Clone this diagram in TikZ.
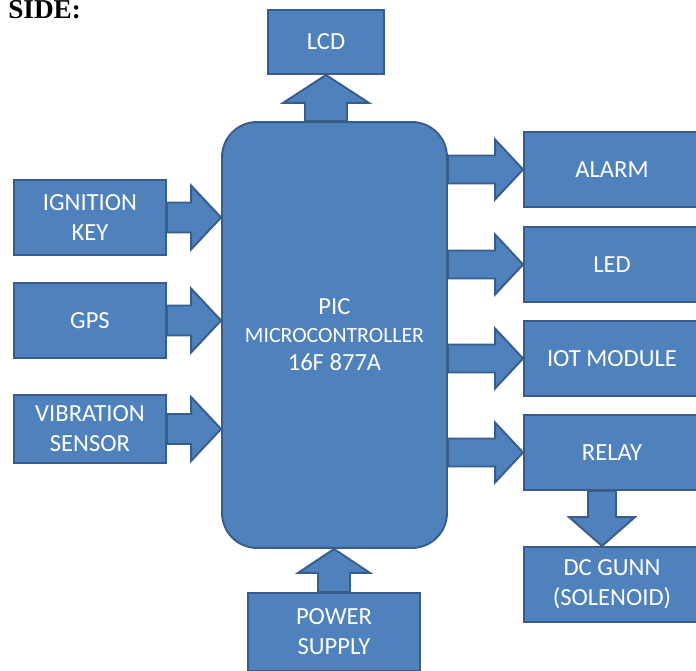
\documentclass[tikz,border=0pt]{standalone}
\usepackage{fontspec}
\setmainfont{Carlito}
\newfontfamily\headfont{Liberation Serif}
\usetikzlibrary{calc}
\definecolor{blockfill}{RGB}{79,129,189}
\definecolor{blockline}{RGB}{56,93,138}

\begin{document}
\begin{tikzpicture}[x=0.02cm, y=-0.02cm,
 block/.style={draw=blockline, fill=blockfill, line width=1.1pt,
          text=white, align=center, inner sep=0pt,
          font=\fontsize{14}{17}\selectfont},
 inblock/.style={block, minimum width=3.04cm, minimum height=1.5cm},
 outblock/.style={block, minimum width=3.52cm, minimum height=1.5cm},
 barrow/.style={draw=blockline, fill=blockfill, line width=1.1pt}
]
\clip (0,0) rectangle (696,671);
\node[font=\headfont\bfseries\fontsize{15.5}{18}\selectfont, anchor=base west, inner sep=0pt] (title) at (8,19) {SIDE:};
% controller and the blocks round it
\node[block, minimum width=4.5cm, minimum height=8.52cm, rounded corners=0.7cm] (mcu) at (334.5,335)
 {PIC\\[-1pt]{\fontsize{12.4}{15}\selectfont MICROCONTROLLER}\\[-1pt]16F 877A};
\node[block, minimum width=2.32cm, minimum height=1.28cm] (lcd) at (326,42) {LCD};
\node[inblock] (ign) at (90,217.5) {IGNITION\\KEY};
\node[inblock] (gps) at (90,320.5) {GPS};
\node[inblock, minimum height=1.36cm] (vib) at (90,429) {VIBRATION\\SENSOR};
\node[outblock] (alarm) at (612,169.5) {ALARM};
\node[outblock] (led) at (612,264.5) {LED};
\node[outblock] (iot) at (612,358.5) {IOT MODULE};
\node[outblock] (relay) at (612,452.5) {RELAY};
\node[outblock] (dc) at (612,584.5) {DC GUNN\\(SOLENOID)};
\node[block, minimum width=3.44cm, minimum height=1.56cm] (power) at (334,632) {POWER\\SUPPLY};
% inputs into the controller
\foreach \n in {ign,gps,vib}
 \draw[barrow] ($(\n.east)+(0,-15)$) -- ($(mcu.west|-\n.east)+(-30,-15)$) -- ++(0,-17)
  -- (mcu.west|-\n.east) -- ($(mcu.west|-\n.east)+(-30,32)$) -- ++(0,-17)
  -- ($(\n.east)+(0,15)$) -- cycle;
% outputs from the controller
\foreach \n in {alarm,led,iot,relay}
 \draw[barrow] ($(mcu.east|-\n.west)+(0,-14)$) -- ($(\n.west)+(-28,-14)$) -- ++(0,-16)
  -- (\n.west) -- ($(\n.west)+(-28,30)$) -- ++(0,-16)
  -- ($(mcu.east|-\n.west)+(0,14)$) -- cycle;
\draw[barrow] ($(lcd.south|-mcu.north)+(-21,0)$) -- ($(lcd.south)+(-21,28)$) -- ++(-22,0)
 -- (lcd.south) -- ($(lcd.south)+(43,28)$) -- ++(-22,0)
 -- ($(lcd.south|-mcu.north)+(21,0)$) -- cycle;
\draw[barrow] ($(power.north)+(-16,0)$) -- ($(power.north|-mcu.south)+(-16,24)$) -- ++(-20,0)
 -- (power.north|-mcu.south) -- ($(power.north|-mcu.south)+(36,24)$) -- ++(-20,0)
 -- ($(power.north)+(16,0)$) -- cycle;
\draw[barrow] ($(relay.south)+(-24,0)$) -- ($(dc.north)+(-24,-29)$) -- ++(-19,0)
 -- ($(dc.north)+(-10,0)$) -- ($(dc.north)+(23,-29)$) -- ++(-19,0)
 -- ($(relay.south)+(4,0)$) -- cycle;
\end{tikzpicture}
\end{document}
